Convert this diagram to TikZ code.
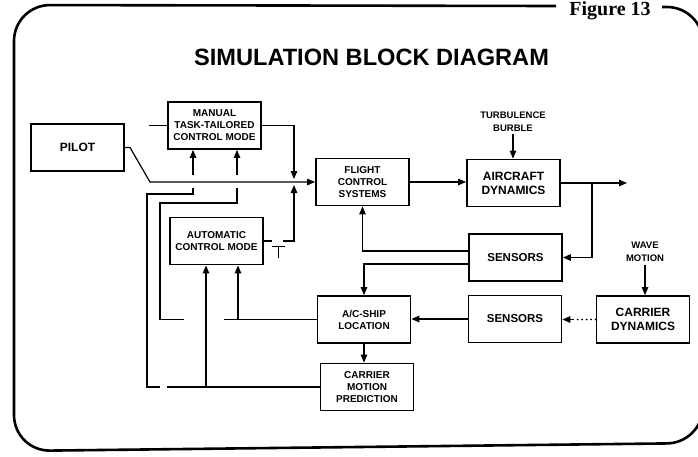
\documentclass[tikz,border=0pt]{standalone}
\usepackage{fontspec}
\setmainfont{Liberation Sans}
\newfontfamily\figfont{Liberation Serif}
\usetikzlibrary{arrows.meta}
\begin{document}
\begin{tikzpicture}[x=1pt,y=-1pt,
  blk/.style={draw, line width=1.8pt, minimum width=93pt, minimum height=47pt, inner sep=0pt, align=center, font=\bfseries\fontsize{10}{12}\selectfont},
  bigtxt/.style={font=\bfseries\fontsize{12}{14}\selectfont},
  senstxt/.style={font=\bfseries\fontsize{11.5}{14}\selectfont},
  lbl/.style={align=center, inner sep=0pt, font=\bfseries\fontsize{9.5}{13}\selectfont},
  conn/.style={line width=1.2pt},
  arr/.style={conn, -{Triangle[length=8pt,width=6.5pt]}},
  dotline/.style={line width=1.8pt, line cap=round, dash pattern=on 0pt off 4.5pt},
]
\useasboundingbox (0,0) rectangle (698,456);
% frame
\draw[line width=2.6pt, rounded corners=36pt] (556,6) -- (14,5) -- (14,451) -- (703,443) -- (703,7) -- (662,7);
\node[font=\figfont\bfseries\fontsize{20}{20}\selectfont, inner sep=0pt, anchor=base] (fig) at (610,15) {Figure 13};
\node[font=\bfseries\fontsize{23.6}{26}\selectfont, inner sep=0pt] (title) at (371.5,57) {SIMULATION BLOCK DIAGRAM};
% blocks
\node[blk, bigtxt] (pilot) at (77.5,147.5) {PILOT};
\node[blk] (manual) at (214.5,125.5) {MANUAL\\TASK-TAILORED\\CONTROL MODE};
\node[blk] (auto) at (216.5,241) {AUTOMATIC\\CONTROL MODE};
\node[blk] (fcs) at (362.5,182) {FLIGHT\\CONTROL\\SYSTEMS};
\node[blk, bigtxt] (acd) at (513.5,183) {AIRCRAFT\\DYNAMICS};
\node[blk, senstxt] (sensa) at (515.5,257.5) {SENSORS};
\node[blk, senstxt] (sensb) at (515,319) {SENSORS};
\node[blk, bigtxt] (cdyn) at (643,319.5) {CARRIER\\DYNAMICS};
\node[blk] (acship) at (364,319.5) {A/C-SHIP\\LOCATION};
\node[blk] (cmp) at (367,387) {CARRIER\\MOTION\\PREDICTION};
\node[lbl] (turb) at (513,121.5) {TURBULENCE\\BURBLE};
\node[lbl] (wave) at (645,251.5) {WAVE\\MOTION};
% pilot path and summing
\coordinate (pbend) at (130,147.5);
\coordinate (pdiag) at (150,182);
\coordinate (sum) at (294,182);
\draw[arr] (pilot.east) -- (pbend) -- (pdiag) -- (fcs.west);
\coordinate (mstub) at (149,125.5);
\draw[conn] (mstub) -- (manual.west);
\draw[arr, shorten >=3pt] (manual.east) -| (sum);
\coordinate (swa) at (272,241);
\coordinate (swb) at (283,241);
\draw[conn] (auto.east) -- (swa);
\draw[arr, shorten >=3pt] (swb) -| (sum);
\draw[line width=0.9pt] (272,246) -- (285,246) (278.5,246) -- (278.5,258);
% forward path
\draw[arr] (fcs.east) -- (fcs.east -| acd.west);
\coordinate (out) at (627,183);
\draw[arr] (acd.east) -- (out);
\coordinate (br) at (592,183);
\draw[arr] (br) |- (sensa.east);
\coordinate (s1a) at (469,251);
\coordinate (s1b) at (469,264);
\draw[arr] (s1a) -| (fcs.south);
\draw[arr] (s1b) -| (acship.north);
\draw[arr] (sensb.west) -- (sensb.west -| acship.east);
\draw[dotline] (cdyn.west) -- ++(-22,0);
\draw[arr] (cdyn.west) ++(-22,0) coordinate (dend) (dend) -- (dend -| sensb.east);
\draw[arr] (acship.south) -- (acship.south |- cmp.north);
\coordinate (tu) at (513,134);
\draw[arr] (tu) -- (tu |- acd.north);
\coordinate (wa) at (645,265);
\draw[arr] (wa) -- (wa |- cdyn.north);
% feedback from A/C-ship location
\coordinate (ja) at (238,319.5);
\draw[conn] (acship.west) -- (224,319.5);
\draw[conn] (184,319.5) -- (160,319.5) -- (160,203) -- (237,203) -- (237,188);
\coordinate (ma) at (237,175);
\draw[arr] (ma) -- (ma |- manual.south);
\draw[arr] (ja) -- (ja |- auto.south);
% feedback from carrier motion prediction
\coordinate (jb) at (206,387);
\draw[conn] (cmp.west) -- (167,387);
\draw[conn] (160,387) -- (147,387) -- (147,194) -- (193,194) -- (193,188);
\coordinate (mb) at (193,175);
\draw[arr] (mb) -- (mb |- manual.south);
\draw[arr] (jb) -- (jb |- auto.south);
\end{tikzpicture}
\end{document}
